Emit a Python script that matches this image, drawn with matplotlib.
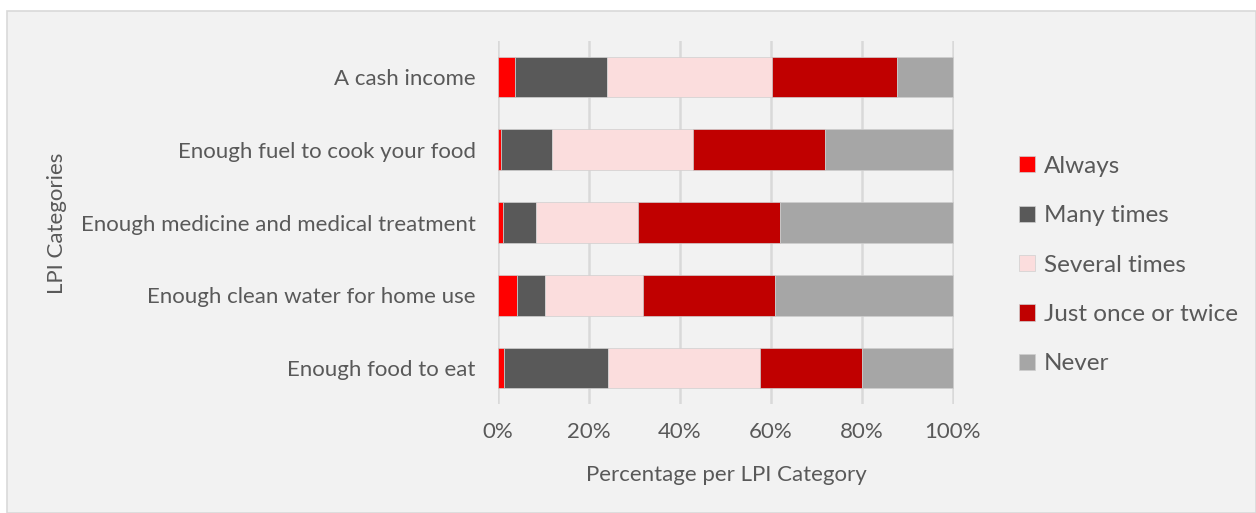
import numpy as np
import matplotlib.pyplot as plt
from matplotlib.patches import Rectangle
from matplotlib.ticker import PercentFormatter

plt.rcParams['font.family'] = ['Lato', 'DejaVu Sans']

categories = ["Enough food to eat", "Enough clean water for home use",
              "Enough medicine and medical treatment", "Enough fuel to cook your food",
              "A cash income"]
series = ["Always", "Many times", "Several times", "Just once or twice", "Never"]
always = [1.3, 4.2, 1.1, 0.6, 3.8]
many_times = [22.8, 6.2, 7.2, 11.2, 20.1]
several_times = [33.6, 21.4, 22.5, 31.1, 36.3]
once_twice = [22.3, 29.2, 31.3, 29.1, 27.6]
never = [20.0, 39.0, 37.9, 28.0, 12.2]
colors = ["#ff0000", "#595959", "#fbdddd", "#c00000", "#a6a6a6"]
text_col = "#595959"

fig = plt.figure(figsize=(12.56, 5.13), dpi=100)
fig.patch.set_facecolor("white")
# chart area background
fig.patches.append(Rectangle((7 / 1256, 0), 1 - 7 / 1256, 1 - 11 / 513,
                             transform=fig.transFigure, facecolor="#f2f2f2",
                             edgecolor="#d9d9d9", linewidth=1.2, zorder=-1))

ax = fig.add_axes([498 / 1256, 0.2117, 456 / 1256, 0.709])
ax.set_facecolor("none")

data = [always, many_times, several_times, once_twice, never]
y = np.arange(len(categories))
left = np.zeros(len(categories))
for name, vals, c in zip(series, data, colors):
    vals = np.array(vals)
    ax.barh(y, vals, left=left, height=0.56, color=c, label=name,
            edgecolor="#cfcfcf", linewidth=0.5, zorder=3)
    left += vals

ax.set_xlim(0, 100.3)
ax.set_ylim(-0.5, len(categories) - 0.5)
ax.set_xticks(np.arange(0, 101, 20))
ax.xaxis.set_major_formatter(PercentFormatter(decimals=0))
ax.set_yticks(y)
ax.set_yticklabels(categories)
ax.grid(axis="x", color="#d9d9d9", linewidth=1.8, zorder=0)
for s in ax.spines.values():
    s.set_visible(False)
ax.tick_params(length=0, labelsize=16, labelcolor=text_col)
ax.tick_params(axis="x", pad=13)
ax.tick_params(axis="y", pad=16)

ax.set_xlabel("Percentage per LPI Category", fontsize=16, color=text_col, labelpad=16)
fig.text(57 / 1256, 1 - 223 / 513, "LPI Categories", rotation=90, fontsize=16,
         color=text_col, ha="center", va="center")

leg = ax.legend(loc="center left", bbox_to_anchor=(1.095, 0.383), frameon=False,
                fontsize=17.5, labelcolor=text_col, handlelength=0.65, handleheight=0.65,
                handletextpad=0.35, labelspacing=1.17)

fig.savefig("out.png", dpi=100)
